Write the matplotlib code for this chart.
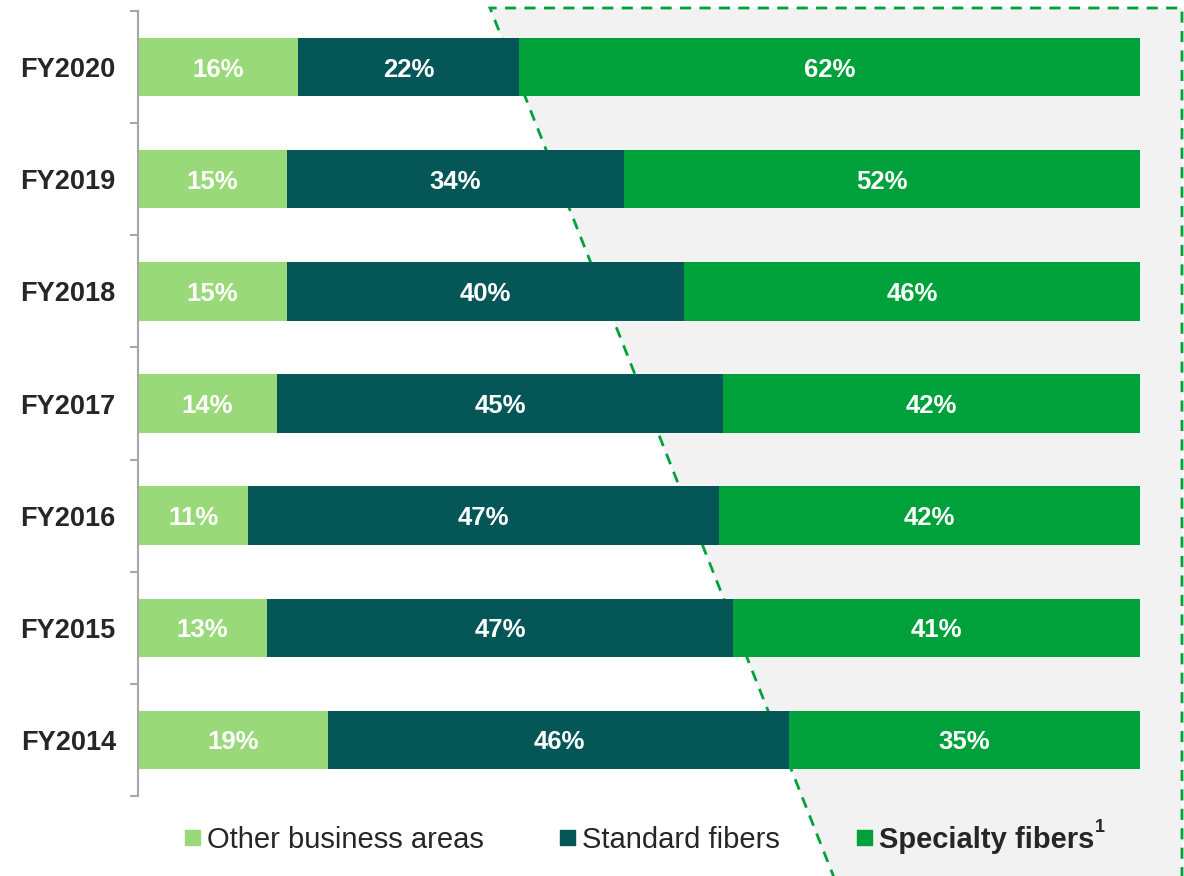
import matplotlib.pyplot as plt
from matplotlib.patches import Polygon, Rectangle
import numpy as np

plt.rcParams['font.family'] = ['Liberation Sans', 'DejaVu Sans']

# Revenue split by business area, bottom row first
years = ['FY2014', 'FY2015', 'FY2016', 'FY2017', 'FY2018', 'FY2019', 'FY2020']
other = [19, 13, 11, 14, 15, 15, 16]
standard = [46, 47, 47, 45, 40, 34, 22]
specialty = [35, 41, 42, 42, 46, 52, 62]

series_names = ['Other business areas', 'Standard fibers', 'Specialty fibers']
colors = ['#99d979', '#055656', '#00a13a']
text_dark = '#262626'

fig = plt.figure(figsize=(11.84, 8.76), dpi=100)
W, H = 1184, 876

# Shaded highlight region behind the specialty share, dashed on three sides
corners = [(835, 880), (490, 8), (1182, 8), (1182, 880)]
poly_pts = [(x / W, 1 - y / H) for x, y in corners]
fig.patches.append(Polygon(poly_pts, closed=False, transform=fig.transFigure,
                           facecolor='#f2f2f2', edgecolor='#00a13a',
                           linestyle=(0, (4, 3)), linewidth=2, zorder=-1))

ax = fig.add_axes([138 / W, 1 - 796 / H, 1002 / W, 785 / H])
ax.patch.set_alpha(0)
ax.set_zorder(1)

vals = np.array([other, standard, specialty], dtype=float)
shares = vals / vals.sum(axis=0)
y = np.arange(len(years))
left = np.zeros(len(years))
for i in range(3):
    ax.barh(y, shares[i], left=left, height=0.52, color=colors[i],
            edgecolor='none', zorder=2)
    for j in range(len(years)):
        ax.text(left[j] + shares[i][j] / 2, y[j], f'{int(vals[i][j])}%',
                ha='center', va='center_baseline', color='white', fontsize=18.5,
                fontweight='bold', zorder=3)
    left += shares[i]

ax.set_xlim(0, 1)
ax.set_ylim(-0.5, len(years) - 0.5)
ax.set_xticks([])
ax.set_yticks(y)
ax.set_yticklabels(years, fontsize=19.5, fontweight='bold', color=text_dark)
ax.set_yticks(np.arange(-0.5, len(years)), minor=True)
ax.tick_params(axis='y', which='major', length=0, pad=16)
ax.tick_params(axis='y', which='minor', length=6, width=1.5, color='#a6a6a6')
for side in ['top', 'right', 'bottom']:
    ax.spines[side].set_visible(False)
ax.spines['left'].set_color('#a6a6a6')
ax.spines['left'].set_linewidth(1.5)

# Legend row drawn by hand
legend_y = 1 - 837 / H
sq = 15
for x0, name, col, weight in [(185, series_names[0], colors[0], 'normal'),
                              (560, series_names[1], colors[1], 'normal'),
                              (857, series_names[2], colors[2], 'bold')]:
    fig.patches.append(Rectangle((x0 / W, legend_y - sq / 2 / H), sq / W, sq / H,
                                 transform=fig.transFigure, color=col))
    t = fig.text((x0 + sq + 7) / W, legend_y, name, fontsize=21,
                 fontweight=weight, color=text_dark, va='center_baseline', ha='left')

fig.canvas.draw()
bb = t.get_window_extent()
fig.text((bb.x1 + 1) / W, legend_y + 9 / H, '1', fontsize=13,
         fontweight='bold', color=text_dark, va='center', ha='left')

fig.savefig('out.png', dpi=100)
